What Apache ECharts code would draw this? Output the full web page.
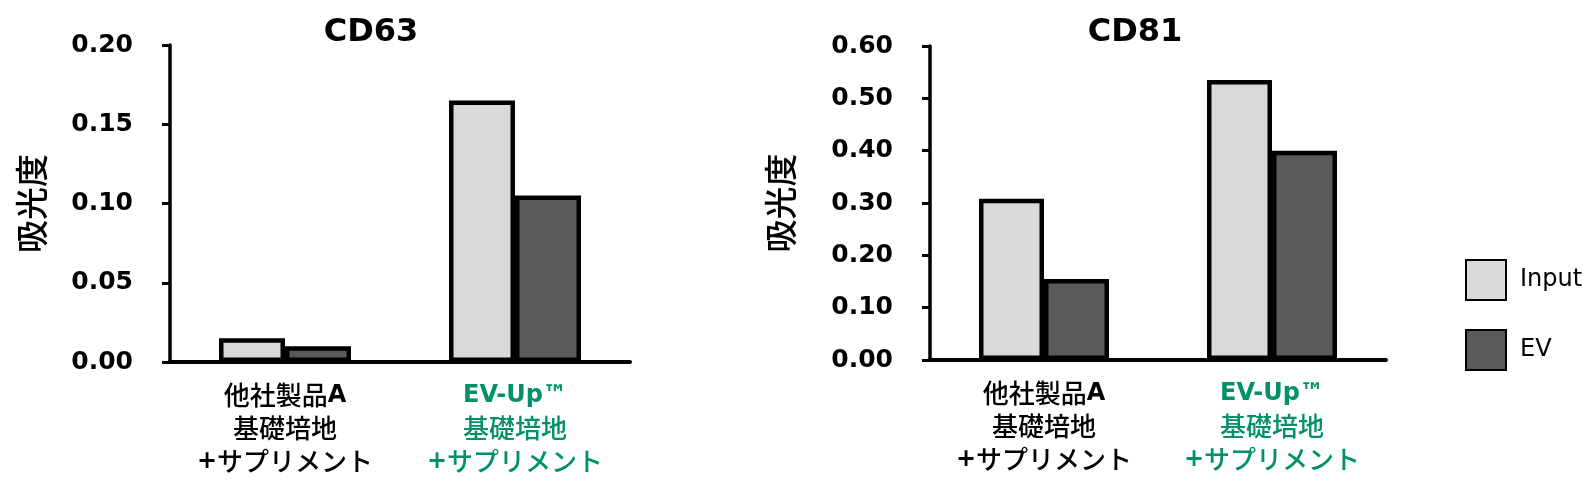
<!DOCTYPE html>
<html>
<head>
<meta charset="utf-8">
<script src="https://cdn.jsdelivr.net/npm/echarts@6/dist/echarts.min.js"></script>
<style>
html,body{margin:0;padding:0;background:#fff;}
#chart{width:1583px;height:500px;}
</style>
</head>
<body>
<div id="chart"></div>
<script>
const categories = ['他社製品A\n基礎培地\n+サプリメント', 'EV-Up™\n基礎培地\n+サプリメント'];
const seriesNames = ['Input', 'EV'];
const cd63Input = [0.015, 0.165];
const cd63EV = [0.01, 0.105];
const cd81Input = [0.308, 0.535];
const cd81EV = [0.155, 0.400];
const titles = ['CD63', 'CD81'];
const yAxisName = '吸光度';

const LATIN = "'DejaVu Sans', 'Noto Sans CJK JP', sans-serif";
const CJK = "'Noto Sans CJK JP', 'DejaVu Sans', sans-serif";
const GREEN = '#00916b';
const INPUT_COLOR = '#d9d9d9';
const EV_COLOR = '#5a5a5a';

function fmtLabel(value, idx) {
  const green = idx === 1;
  return value.split('\n').map(function (line) {
    return line.replace(/([A-Za-z0-9+\-™]+)|([^A-Za-z0-9+\-™]+)/g, function (m, lat, cj) {
      if (lat) return '{' + (green ? 'gb' : 'b') + '|' + lat + '}';
      return '{' + (green ? 'gn' : 'n') + '|' + cj + '}';
    });
  }).join('\n');
}

const richStyles = {
  b: {fontFamily: LATIN, fontWeight: 'bold', fontSize: 24, color: '#000', lineHeight: 33},
  n: {fontFamily: CJK, fontWeight: 500, fontSize: 26, color: '#000', lineHeight: 33},
  gb: {fontFamily: LATIN, fontWeight: 'bold', fontSize: 24, color: GREEN, lineHeight: 33},
  gn: {fontFamily: CJK, fontWeight: 500, fontSize: 26, color: GREEN, lineHeight: 33}
};

function xAxisDef(gridIndex) {
  return {
    type: 'category',
    gridIndex: gridIndex,
    data: categories,
    axisLine: {lineStyle: {color: '#000', width: 4}},
    axisTick: {show: false},
    axisLabel: {margin: 17, formatter: fmtLabel, rich: richStyles, interval: 0}
  };
}

function yAxisDef(gridIndex, max, interval, nameGap) {
  return {
    type: 'value',
    gridIndex: gridIndex,
    min: 0,
    max: max,
    interval: interval,
    name: yAxisName,
    nameLocation: 'middle',
    nameGap: nameGap,
    nameRotate: 90,
    nameTextStyle: {fontFamily: CJK, fontWeight: 500, fontSize: 33, color: '#000'},
    axisLine: {show: true, lineStyle: {color: '#000', width: 3.5}},
    axisTick: {show: true, length: 8, lineStyle: {color: '#000', width: 3}},
    splitLine: {show: false},
    axisLabel: {
      margin: 37,
      fontFamily: LATIN, fontWeight: 'bold', fontSize: 25, color: '#000',
      formatter: function (v) { return v.toFixed(2); }
    }
  };
}

function barSeries(name, color, data, axisIndex, barWidth) {
  return {
    name: name,
    type: 'bar',
    xAxisIndex: axisIndex,
    yAxisIndex: axisIndex,
    data: data,
    barWidth: barWidth,
    barGap: '0%',
    itemStyle: {color: color, borderColor: '#000', borderWidth: 4.5},
    emphasis: {disabled: true}
  };
}

const option = {
  backgroundColor: '#fff',
  animation: false,
  title: [
    {text: titles[0], left: 371, top: 17, textAlign: 'center', padding: 0,
     textStyle: {fontFamily: LATIN, fontWeight: 'bold', fontSize: 32, color: '#000'}},
    {text: titles[1], left: 1135, top: 17, textAlign: 'center', padding: 0,
     textStyle: {fontFamily: LATIN, fontWeight: 'bold', fontSize: 32, color: '#000'}}
  ],
  legend: {
    data: seriesNames,
    orient: 'vertical',
    left: 1465,
    top: 259,
    padding: 0,
    itemWidth: 40,
    itemHeight: 40,
    itemGap: 28,
    icon: 'rect',
    itemStyle: {borderColor: '#000', borderWidth: 2},
    textStyle: {fontFamily: LATIN, fontSize: 24, color: '#000', padding: [0, 0, 0, 9]},
    selectedMode: false
  },
  grid: [
    {left: 170, right: 1583 - 630, top: 45, bottom: 500 - 362},
    {left: 930, right: 1583 - 1386, top: 46, bottom: 500 - 360}
  ],
  xAxis: [xAxisDef(0), xAxisDef(1)],
  yAxis: [yAxisDef(0, 0.2, 0.05, 122), yAxisDef(1, 0.6, 0.1, 133)],
  series: [
    barSeries(seriesNames[0], INPUT_COLOR, cd63Input, 0, 66),
    barSeries(seriesNames[1], EV_COLOR, cd63EV, 0, 66),
    barSeries(seriesNames[0], INPUT_COLOR, cd81Input, 1, 65),
    barSeries(seriesNames[1], EV_COLOR, cd81EV, 1, 65)
  ]
};

const chart = echarts.init(document.getElementById('chart'), null, {renderer: 'canvas'});
chart.setOption(option);
</script>
</body>
</html>
